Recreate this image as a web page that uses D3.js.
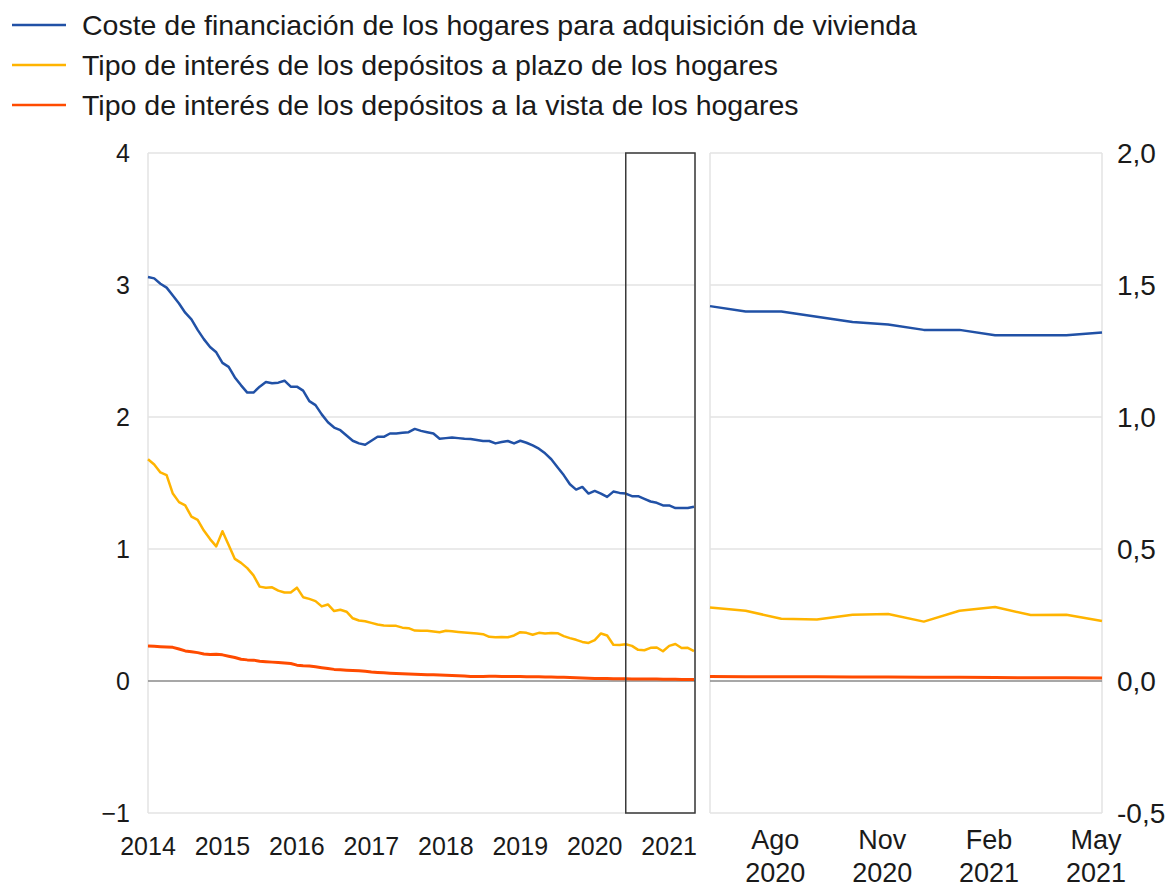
<html>

<head>
    <meta charset="utf-8" />
    <title>Tipos de interés de los hogares</title>
    <script src="https://d3js.org/d3.v7.min.js"></script>
    <style>
        body {
            margin: 0;
            background: #fff;
            font-family: "Liberation Sans", Arial, Helvetica, sans-serif;
        }

        .tick-label {
            fill: #1a1a1a;
        }
    </style>
</head>

<body>
    <svg id="chart" width="1173" height="889"></svg>
    <script>
        // monthly series, Jan 2014 .. May 2021
        const startYear = 2014
        const coste = [
            3.06, 3.05, 3.01, 2.98, 2.92, 2.86, 2.79, 2.74, 2.66, 2.59, 2.53, 2.49,
            2.41, 2.38, 2.30, 2.24, 2.185, 2.185, 2.23, 2.265, 2.255, 2.26, 2.275, 2.23,
            2.23, 2.20, 2.12, 2.09, 2.02, 1.96, 1.92, 1.90, 1.86, 1.82, 1.80, 1.79,
            1.82, 1.85, 1.85, 1.875, 1.875, 1.88, 1.885, 1.91, 1.895, 1.885, 1.875, 1.835,
            1.84, 1.845, 1.84, 1.835, 1.833, 1.825, 1.818, 1.818, 1.80, 1.81, 1.818, 1.80,
            1.82, 1.805, 1.785, 1.76, 1.725, 1.68, 1.62, 1.56, 1.49, 1.45, 1.47, 1.42,
            1.44, 1.42, 1.395, 1.435, 1.425, 1.42, 1.40, 1.40, 1.38, 1.36, 1.35, 1.33,
            1.33, 1.31, 1.31, 1.31, 1.32
        ]
        const plazo = [
            1.68, 1.64, 1.58, 1.56, 1.42, 1.355, 1.33, 1.245, 1.22, 1.14, 1.075, 1.02,
            1.135, 1.03, 0.925, 0.895, 0.855, 0.80, 0.715, 0.707, 0.71, 0.685, 0.67, 0.67,
            0.707, 0.635, 0.622, 0.605, 0.565, 0.58, 0.53, 0.54, 0.525, 0.475, 0.458, 0.453,
            0.44, 0.428, 0.42, 0.418, 0.418, 0.404, 0.40, 0.382, 0.38, 0.381, 0.375, 0.369,
            0.38, 0.377, 0.372, 0.368, 0.364, 0.36, 0.355, 0.335, 0.332, 0.333, 0.331, 0.345,
            0.37, 0.365, 0.35, 0.365, 0.36, 0.364, 0.362, 0.34, 0.325, 0.312, 0.296, 0.288,
            0.31, 0.36, 0.345, 0.275, 0.272, 0.278, 0.266, 0.236, 0.233, 0.251, 0.254, 0.225,
            0.266, 0.280, 0.250, 0.251, 0.227
        ]
        const vista = [
            0.265, 0.263, 0.260, 0.258, 0.255, 0.242, 0.228, 0.222, 0.215, 0.205, 0.200, 0.202,
            0.198, 0.188, 0.178, 0.165, 0.160, 0.158, 0.150, 0.146, 0.143, 0.140, 0.136, 0.132,
            0.120, 0.116, 0.114, 0.108, 0.101, 0.094, 0.088, 0.085, 0.082, 0.079, 0.077, 0.073,
            0.068, 0.065, 0.062, 0.059, 0.057, 0.055, 0.053, 0.051, 0.049, 0.048, 0.047, 0.045,
            0.044, 0.042, 0.040, 0.038, 0.035, 0.034, 0.035, 0.036, 0.036, 0.035, 0.035, 0.034,
            0.034, 0.033, 0.033, 0.032, 0.031, 0.030, 0.029, 0.028, 0.027, 0.025, 0.022, 0.020,
            0.019, 0.018, 0.018, 0.017, 0.017, 0.017, 0.016, 0.016, 0.016, 0.015, 0.015, 0.014,
            0.014, 0.013, 0.012, 0.012, 0.011
        ]

        const seriesNames = [
            "Coste de financiación de los hogares para adquisición de vivienda",
            "Tipo de interés de los depósitos a plazo de los hogares",
            "Tipo de interés de los depósitos a la vista de los hogares"
        ]
        const seriesColors = ["#2151a6", "#ffb400", "#ff4b00"]

        const leftTicks = [-1, 0, 1, 2, 3, 4]
        const rightTicks = [-0.5, 0, 0.5, 1, 1.5, 2]
        const yearTicks = [2014, 2015, 2016, 2017, 2018, 2019, 2020, 2021]

        // last 12 months (Jun 2020 .. May 2021) shown in the zoom panel
        const zoomStart = 77
        const zoomTicks = [
            [2, "Ago", "2020"],
            [5, "Nov", "2020"],
            [8, "Feb", "2021"],
            [11, "May", "2021"]
        ]

        const svg = d3.select("svg#chart")
        const font = "'Liberation Sans', Arial, sans-serif"

        const leftPanel = { x0: 148, x1: 695 }
        const rightPanel = { x0: 710, x1: 1102 }
        const plotTop = 153, plotBottom = 813

        const xL = d3.scaleLinear().domain([0, coste.length - 1]).range([leftPanel.x0, 694])
        const yL = d3.scaleLinear().domain([-1, 4]).range([plotBottom, plotTop])
        const xR = d3.scaleLinear().domain([0, 11]).range([rightPanel.x0, rightPanel.x1])
        const yR = d3.scaleLinear().domain([-0.5, 2]).range([plotBottom, plotTop])

        const allSeries = [coste, plazo, vista]

        // legend
        const legend = svg.append("g").attr("id", "legend")
        seriesNames.forEach((name, i) => {
            const ly = 25 + i * 40
            legend.append("line")
                .attr("x1", 12).attr("x2", 66)
                .attr("y1", ly).attr("y2", ly)
                .attr("stroke", seriesColors[i]).attr("stroke-width", 2.5)
            legend.append("text")
                .attr("x", 82).attr("y", ly)
                .attr("dominant-baseline", "central")
                .attr("font-family", font).attr("font-size", 28.5)
                .attr("fill", "#1a1a1a")
                .text(name)
        })

        // panel frames + grids
        const drawPanel = function (p, yScale, ticks) {
            const g = svg.append("g")
            g.selectAll("line.grid").data(ticks.filter(t => t !== 0))
                .join("line").attr("class", "grid")
                .attr("x1", p.x0).attr("x2", p.x1)
                .attr("y1", d => yScale(d)).attr("y2", d => yScale(d))
                .attr("stroke", "#e3e3e3").attr("stroke-width", 1.5)
            g.selectAll("line.side").data([p.x0, p.x1])
                .join("line").attr("class", "side")
                .attr("x1", d => d).attr("x2", d => d)
                .attr("y1", plotTop).attr("y2", plotBottom)
                .attr("stroke", "#e3e3e3").attr("stroke-width", 1.5)
            g.append("line")
                .attr("x1", p.x0).attr("x2", p.x1)
                .attr("y1", yScale(0)).attr("y2", yScale(0))
                .attr("stroke", "#8a8a8a").attr("stroke-width", 1.5)
        }
        drawPanel(leftPanel, yL, leftTicks)
        drawPanel(rightPanel, yR, rightTicks)

        // lines
        const lineL = d3.line().x((d, i) => xL(i)).y(d => yL(d))
        const lineR = d3.line().x((d, i) => xR(i)).y(d => yR(d))

        const lines = svg.append("g").attr("id", "lines")
        allSeries.slice().reverse().forEach((s, k) => {
            const i = allSeries.length - 1 - k
            lines.append("path")
                .attr("d", lineL(s))
                .attr("fill", "none")
                .attr("stroke", seriesColors[i])
                .attr("stroke-width", i === 2 ? 3 : 2.5)
                .attr("stroke-linejoin", "round")
            lines.append("path")
                .attr("d", lineR(s.slice(zoomStart)))
                .attr("fill", "none")
                .attr("stroke", seriesColors[i])
                .attr("stroke-width", i === 2 ? 3 : 2.5)
                .attr("stroke-linejoin", "round")
        })

        // zoom box
        svg.append("rect")
            .attr("x", xL(zoomStart)).attr("y", plotTop)
            .attr("width", leftPanel.x1 - xL(zoomStart))
            .attr("height", plotBottom - plotTop)
            .attr("fill", "none")
            .attr("stroke", "#3a3a3a").attr("stroke-width", 1.5)

        // y labels
        svg.append("g").selectAll("text").data(leftTicks)
            .join("text").attr("class", "tick-label")
            .attr("x", 130).attr("y", d => yL(d))
            .attr("text-anchor", "end").attr("dominant-baseline", "central")
            .attr("font-family", font).attr("font-size", 25)
            .text(d => d < 0 ? "\u2212" + Math.abs(d) : d)

        // right axis uses comma decimals and a plain hyphen
        const commaFmt = d => (d < 0 ? "-" : "") + Math.abs(d).toFixed(1).replace(".", ",")
        svg.append("g").selectAll("text").data(rightTicks)
            .join("text").attr("class", "tick-label")
            .attr("x", 1117).attr("y", d => yR(d))
            .attr("text-anchor", "start").attr("dominant-baseline", "central")
            .attr("font-family", font).attr("font-size", 28)
            .text(d => commaFmt(d))

        // x labels
        svg.append("g").selectAll("text").data(yearTicks)
            .join("text").attr("class", "tick-label")
            .attr("x", d => xL((d - startYear) * 12)).attr("y", 855)
            .attr("text-anchor", "middle")
            .attr("font-family", font).attr("font-size", 25)
            .text(d => d)

        const zt = svg.append("g").selectAll("text").data(zoomTicks)
            .join("text").attr("class", "tick-label")
            .attr("text-anchor", "middle")
            .attr("font-family", font).attr("font-size", 27)
        zt.append("tspan")
            .attr("x", d => xR(d[0]) - 6).attr("y", 849)
            .text(d => d[1])
        zt.append("tspan")
            .attr("x", d => xR(d[0]) - 6).attr("y", 882)
            .text(d => d[2])
    </script>
</body>

</html>
